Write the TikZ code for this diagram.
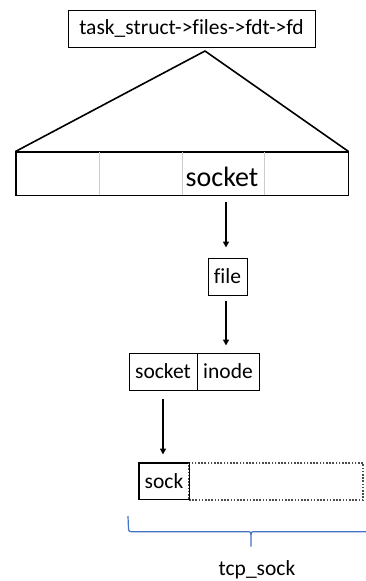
\documentclass[tikz,border=0pt]{standalone}
\usepackage{fontspec}
\setmainfont[Ligatures={NoCommon}]{Carlito}
\usetikzlibrary{arrows.meta}
\definecolor{braceblue}{HTML}{4472C4}
\begin{document}
\begin{tikzpicture}[x=1pt,y=-1pt,
  box/.style={draw=black, line width=1pt, inner sep=0pt, font=\fontsize{21.5}{24}\selectfont},
  cell/.style={inner sep=0pt, minimum height=43pt, minimum width=83pt},
  arrow/.style={-{Triangle[length=6pt,width=6pt]}, line width=1.6pt},
  bigtxt/.style={font=\fontsize{28}{32}\selectfont},
  txt/.style={font=\fontsize{21.5}{24}\selectfont}]
\useasboundingbox (0,0) rectangle (366,581);
% top box
\node[box, minimum width=247pt, minimum height=37pt] (top) at (191.5,28.5) {task\_struct->files->fdt->fd};
% triangle
\coordinate (apex) at (205,51);
% fd array
\node[cell] (c1) at (57.5,173.5) {};
\node[cell] (c2) at (140.5,173.5) {};
\node[cell] (c3) at (223,173.5) {};
\node[cell] (c4) at (306,173.5) {};
\node[draw=black, line width=1pt, inner sep=0pt, minimum width=332pt, minimum height=43pt] (arr) at (182,173.5) {};
\draw[line width=1.6pt, line join=round] (arr.north west) -- (apex) -- (arr.north east);
\draw[gray!40, line width=0.9pt] (99,152) -- (99,195) (182,152) -- (182,195) (264,152) -- (264,195);
\draw[line width=1pt] (arr.north west) rectangle (arr.south east);
\node[bigtxt, anchor=base] at (222,186) {socket};
% file
\node[box, minimum width=39pt, minimum height=37pt] (file) at (227.5,276.5) {file};
% socket / inode
\node[box, minimum width=68pt, minimum height=37pt] (socket) at (163,371.5) {socket};
\node[box, minimum width=62pt, minimum height=37pt] (inode) at (228,371.5) {inode};
% sock
\node[box, minimum width=50pt, minimum height=36pt] (sock) at (164,481) {sock};
\node[draw=gray!60!black, dash pattern=on 1.6pt off 1.6pt, line width=1.1pt, inner sep=0pt, minimum width=174pt, minimum height=37pt] (rest) at (276,481.5) {};
\draw[line width=1pt] (sock.north west) rectangle (sock.south east);
% arrows
\draw[arrow, shorten <=6pt, shorten >=10pt] ([xshift=-1.5pt]file.north |- arr.south) -- ([xshift=-1.5pt]file.north);
\draw[arrow, shorten <=5pt, shorten >=7pt] ([xshift=-1.5pt]file.south) -- ([xshift=-1.5pt]file.south |- inode.north);
\draw[arrow, shorten <=8pt, shorten >=8pt] (socket.south) -- (socket.south |- sock.north);
% brace
\coordinate (bl) at (128,516);
\coordinate (bt) at (251,546.5);
\draw[braceblue, line width=1.2pt] (bl) -- (128.5,529) .. controls (129,531.5) .. (131.5,531.7) -- (247,531.7) .. controls (250.5,531.7) .. (251,535) -- (bt);
\draw[braceblue, line width=1.2pt] (251,535) .. controls (251.5,531.7) .. (255,531.7) -- (366,531.7);
\node[txt] (tcp) at (257,570) {tcp\_sock};
\end{tikzpicture}
\end{document}
